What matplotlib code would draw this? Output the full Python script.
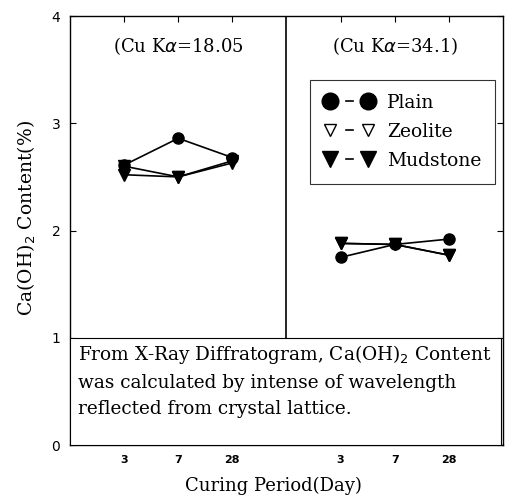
import matplotlib
matplotlib.use("Agg")
import matplotlib.pyplot as plt
from matplotlib.patches import Rectangle
from matplotlib.lines import Line2D
from matplotlib.legend_handler import HandlerBase

# Curing periods and Ca(OH)2 content (%) for two diffraction peaks
days = ["3", "7", "28"]
peak_labels = ["(Cu K$\\alpha$=18.05", "(Cu K$\\alpha$=34.1)"]

plain_1805 = [2.61, 2.86, 2.68]
zeolite_1805 = [2.60, 2.50, 2.65]
mudstone_1805 = [2.52, 2.50, 2.63]

plain_341 = [1.75, 1.87, 1.92]
zeolite_341 = [1.88, 1.87, 1.77]
mudstone_341 = [1.88, 1.87, 1.77]

serif = "DejaVu Serif"


class MarkerDashMarker(HandlerBase):
    """Legend key drawn as: marker  -  marker."""

    def create_artists(self, legend, orig_handle, xdescent, ydescent,
                       width, height, fontsize, trans):
        y = height / 2 - ydescent
        kw = dict(marker=orig_handle.get_marker(),
                  markersize=orig_handle.get_markersize(),
                  markerfacecolor=orig_handle.get_markerfacecolor(),
                  markeredgecolor=orig_handle.get_markeredgecolor(),
                  linestyle="none", transform=trans)
        left = Line2D([-xdescent + 0.10 * width], [y], **kw)
        right = Line2D([-xdescent + 0.72 * width], [y], **kw)
        dash = Line2D([-xdescent + 0.35 * width, -xdescent + 0.47 * width], [y, y],
                      color="black", lw=1.2, transform=trans)
        return [left, dash, right]


fig = plt.figure(figsize=(5.09, 4.99), dpi=100)
ax = fig.add_axes([0.1375, 0.1082, 0.8507, 0.8597])

xl = [1, 2, 3]
xr = [5, 6, 7]

line_kw = dict(color="black", lw=1.2)
ms = 8

for xs, z, m, p in [(xl, zeolite_1805, mudstone_1805, plain_1805),
                    (xr, zeolite_341, mudstone_341, plain_341)]:
    ax.plot(xs, z, marker="v", mfc="white", mec="black", ms=ms, **line_kw, zorder=3)
    ax.plot(xs, m, marker="v", mfc="black", mec="black", ms=ms, **line_kw, zorder=4)
    ax.plot(xs, p, marker="o", mfc="black", mec="black", ms=ms, **line_kw, zorder=5)

# legend keys
h_plain = Line2D([], [], marker="o", mfc="black", mec="black", ms=12)
h_zeo = Line2D([], [], marker="v", mfc="white", mec="black", ms=8)
h_mud = Line2D([], [], marker="v", mfc="black", mec="black", ms=11)
handler = MarkerDashMarker()
leg = ax.legend([h_plain, h_zeo, h_mud], ["Plain", "Zeolite", "Mudstone"],
                handler_map={h_plain: handler, h_zeo: handler, h_mud: handler},
                handlelength=3.3, handletextpad=0.05,
                loc="upper right", bbox_to_anchor=(0.982, 0.851),
                frameon=True, fancybox=False, borderpad=0.75, labelspacing=0.58,
                borderaxespad=0.0,
                prop={"family": serif, "size": 13.5})
leg.get_frame().set_edgecolor("black")
leg.get_frame().set_linewidth(0.8)

# panel divider
ax.plot([4, 4], [0, 4], color="black", lw=1.2, zorder=2)

# peak labels
ax.text(2, 3.72, peak_labels[0], ha="center", va="center", family=serif, fontsize=13)
ax.text(6, 3.72, peak_labels[1], ha="center", va="center", family=serif, fontsize=13)

# note box
ax.add_patch(Rectangle((0, 0), 7.97, 1.0, facecolor="white", edgecolor="black",
                       lw=0.8, zorder=6))
note = ("From X-Ray Diffratogram, Ca(OH)$_2$ Content\n"
        "was calculated by intense of wavelength\n"
        "reflected from crystal lattice.")
ax.text(0.14, 0.95, note, ha="left", va="top", family=serif, fontsize=13.3,
        linespacing=1.58, zorder=7)

ax.set_xlim(0, 8)
ax.set_ylim(0, 4)
ax.set_xticks(xl + xr)
ax.set_xticklabels(days + days, fontsize=8, fontweight="bold")
ax.set_yticks([0, 1, 2, 3, 4])
ax.set_yticklabels(["0", "1", "2", "3", "4"], fontsize=10)
ax.tick_params(direction="in", top=True, right=True, length=4, width=0.8, pad=7)
for s in ax.spines.values():
    s.set_linewidth(1.0)

ax.set_xlabel("Curing Period(Day)", family=serif, fontsize=13, labelpad=8)
ax.xaxis.set_label_coords(0.471, -0.075)
ax.set_ylabel("Ca(OH)$_2$ Content(%)", family=serif, fontsize=13.5)
ax.yaxis.set_label_coords(-0.074, 0.53)

fig.savefig("out.png", dpi=100)
